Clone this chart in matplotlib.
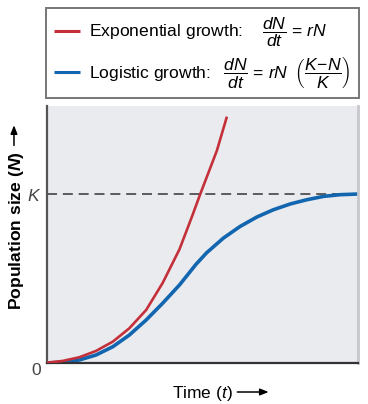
import matplotlib
matplotlib.use("Agg")
import matplotlib.pyplot as plt

plt.rcParams['font.family'] = ['Liberation Sans', 'DejaVu Sans']
plt.rcParams['mathtext.fontset'] = 'custom'
plt.rcParams['mathtext.rm'] = 'Liberation Sans'
plt.rcParams['mathtext.it'] = 'Liberation Sans:italic'
plt.rcParams['mathtext.bf'] = 'Liberation Sans:bold'
plt.rcParams['mathtext.bfit'] = 'Liberation Sans:italic:bold'

# values (time in arbitrary units, N as fraction of K)
exp_t = [0, 0.51, 1.05, 1.58, 2.12, 2.65, 3.19, 3.72, 4.26, 4.65, 4.92, 5.19,
         5.46, 5.78]
exp_n = [0.004, 0.014, 0.036, 0.073, 0.128, 0.207, 0.315, 0.475, 0.674, 0.862,
         0.997, 1.127, 1.257, 1.457]

log_t = [0, 0.51, 1.05, 1.58, 2.12, 2.65, 3.19, 3.72, 4.26, 4.79, 5.13, 5.67,
         6.20, 6.74, 7.27, 7.81, 8.34, 8.88, 9.41, 10.0]
log_n = [0.002, 0.006, 0.020, 0.049, 0.098, 0.167, 0.256, 0.355, 0.463, 0.585,
         0.653, 0.740, 0.808, 0.864, 0.907, 0.941, 0.966, 0.986, 0.996, 1.0]

K = 1.0
ytick_pos = [0, K]
ytick_lab = ['0', '$K$']

red = '#c4303a'
blue = '#1266b0'

fig = plt.figure(figsize=(3.68, 4.04), dpi=100)
ax = fig.add_axes([0.127, 0.1007, 0.847, 0.637])
ax.set_facecolor('#eaebef')

ax.axhline(K, color='#444444', lw=1.2, ls=(0, (6, 3.5)), zorder=1)
l_log, = ax.plot(log_t, log_n, color=blue, lw=2.6, solid_capstyle='butt',
                 solid_joinstyle='round', zorder=2)
l_exp, = ax.plot(exp_t, exp_n, color=red, lw=1.9, solid_capstyle='butt',
                 solid_joinstyle='round', zorder=3)

ax.set_xlim(0, 10)
ax.set_ylim(0, 1.52)
ax.set_xticks([])
ax.set_yticks(ytick_pos)
ax.set_yticklabels(ytick_lab, fontsize=12.5, color='#444444')
ax.tick_params(axis='y', length=0, pad=4)
ax.get_yticklabels()[0].set_va('top')

ax.spines['top'].set_visible(False)
ax.spines['right'].set_color('#c8c8cc')
ax.spines['right'].set_linewidth(2)
ax.spines['left'].set_color('#555555')
ax.spines['left'].set_linewidth(1.6)
ax.spines['bottom'].set_color('#333333')
ax.spines['bottom'].set_linewidth(1.6)

# axis labels, arrows drawn separately
ax.set_ylabel(r'Population size ($\mathbfit{N}$)', fontsize=12.6, fontweight='bold')
ax.yaxis.set_label_coords(-0.067, 0.516)
ax.set_xlabel(r'Time ($t$)', fontsize=12.5)
ax.xaxis.set_label_coords(0.498, -0.08)
ax.annotate('', xy=(0.038, 0.690), xytext=(0.038, 0.640), xycoords='figure fraction',
            arrowprops=dict(arrowstyle='-|>,head_length=0.5,head_width=0.2',
                            color='black', lw=1.1, shrinkA=0, shrinkB=0))
ax.annotate('', xy=(0.730, 0.0297), xytext=(0.645, 0.0297), xycoords='figure fraction',
            arrowprops=dict(arrowstyle='-|>,head_length=0.5,head_width=0.2',
                            color='black', lw=1.1, shrinkA=0, shrinkB=0))

leg = ax.legend([l_exp, l_log],
                [r'Exponential growth: $\quad\dfrac{dN}{dt}$ = $rN$',
                 r'Logistic growth: $\;\;\dfrac{dN}{dt}$ = $rN\;\;\left(\dfrac{K\!-\!N}{K}\right)$'],
                loc='lower left', bbox_to_anchor=(0.125, 0.757, 0.85, 0.23),
                bbox_transform=fig.transFigure, mode='expand',
                fontsize=12.6, frameon=True, fancybox=False,
                handlelength=1.5, handletextpad=0.5, borderpad=0.45,
                labelspacing=0.3, borderaxespad=0)
leg.get_frame().set_edgecolor('#555555')
leg.get_frame().set_linewidth(1.4)
for h in leg.legend_handles:
    h.set_linewidth(2.2)

fig.savefig('out.png', dpi=100)
